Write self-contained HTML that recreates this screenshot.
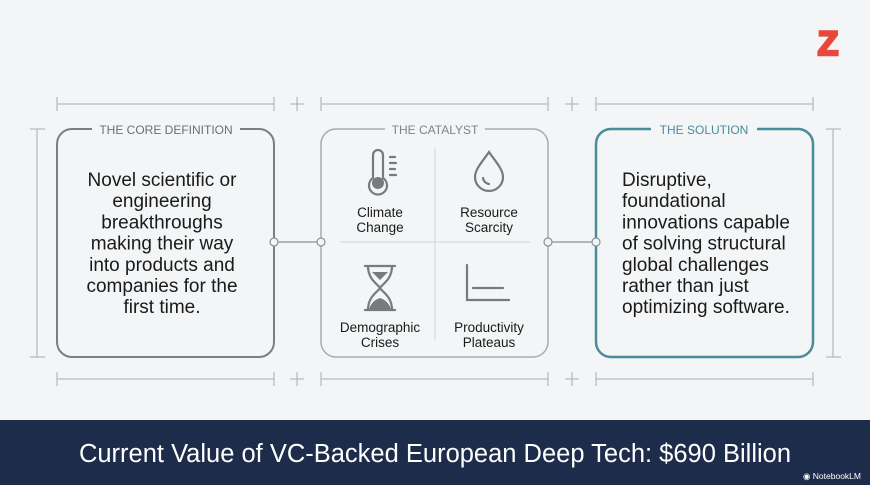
<!DOCTYPE html>
<html><head><meta charset="utf-8"><style>
html,body{margin:0;padding:0;background:#f3f5f6;}
svg{display:block;font-family:"Liberation Sans",sans-serif;}
</style></head><body>
<svg width="870" height="485" viewBox="0 0 870 485" xmlns="http://www.w3.org/2000/svg">
<rect width="870" height="485" fill="#f3f5f6"/>
<!-- Z logo -->
<text x="828" y="55" font-size="34" font-weight="bold" fill="#e8473a" stroke="#e8473a" stroke-width="2.5" text-anchor="middle" font-family="Liberation Sans,sans-serif">Z</text>
<!-- dimension lines -->
<g stroke="#a9adb1" stroke-width="1" fill="none">
<line x1="57" y1="104" x2="274" y2="104"/><line x1="57" y1="97" x2="57" y2="111"/><line x1="274" y1="97" x2="274" y2="111"/>
<line x1="321" y1="104" x2="548" y2="104"/><line x1="321" y1="97" x2="321" y2="111"/><line x1="548" y1="97" x2="548" y2="111"/>
<line x1="596" y1="104" x2="813" y2="104"/><line x1="596" y1="97" x2="596" y2="111"/><line x1="813" y1="97" x2="813" y2="111"/>
<line x1="57" y1="379" x2="274" y2="379"/><line x1="57" y1="372" x2="57" y2="386"/><line x1="274" y1="372" x2="274" y2="386"/>
<line x1="321" y1="379" x2="548" y2="379"/><line x1="321" y1="372" x2="321" y2="386"/><line x1="548" y1="372" x2="548" y2="386"/>
<line x1="596" y1="379" x2="813" y2="379"/><line x1="596" y1="372" x2="596" y2="386"/><line x1="813" y1="372" x2="813" y2="386"/>
<path d="M290 104h14M297 97v14M565 104h14M572 97v14M290 379h14M297 372v14M565 379h14M572 372v14"/>
<line x1="37" y1="129" x2="37" y2="357"/><line x1="30" y1="129" x2="45" y2="129"/><line x1="30" y1="357" x2="45" y2="357"/>
<line x1="833" y1="129" x2="833" y2="357"/><line x1="826" y1="129" x2="841" y2="129"/><line x1="826" y1="357" x2="841" y2="357"/>
</g>
<!-- boxes -->
<rect x="57" y="129" width="217" height="228" rx="15" fill="none" stroke="#7a7f85" stroke-width="2"/>
<rect x="321" y="129" width="227" height="228" rx="15" fill="none" stroke="#a7abaf" stroke-width="1.5"/>
<rect x="596" y="129" width="217" height="228" rx="15" fill="none" stroke="#4a8d9a" stroke-width="2.5"/>
<rect x="92" y="120" width="148" height="18" fill="#f3f5f6"/>
<rect x="385" y="120" width="100" height="18" fill="#f3f5f6"/>
<rect x="651" y="120" width="106" height="18" fill="#f3f5f6"/>
<g font-size="12" text-anchor="middle">
<text x="166" y="134" fill="#6b7075">THE CORE DEFINITION</text>
<text x="435" y="134" fill="#7f8489">THE CATALYST</text>
<text x="704" y="134" fill="#4a8d9a">THE SOLUTION</text>
</g>
<!-- connectors -->
<g stroke="#8d9196" stroke-width="1.2" fill="#f3f5f6">
<line x1="274" y1="242" x2="321" y2="242"/><line x1="548" y1="242" x2="596" y2="242"/>
<circle cx="274" cy="242" r="4"/><circle cx="321" cy="242" r="4"/><circle cx="548" cy="242" r="4"/><circle cx="596" cy="242" r="4"/>
</g>
<!-- box1 text -->
<g font-size="19" fill="#1a1a1a" text-anchor="middle">
<text x="162" y="186">Novel scientific or</text>
<text x="162" y="207.2">engineering</text>
<text x="162" y="228.4">breakthroughs</text>
<text x="162" y="249.6">making their way</text>
<text x="162" y="270.8">into products and</text>
<text x="162" y="292">companies for the</text>
<text x="162" y="313.2">first time.</text>
</g>
<!-- box3 text -->
<g font-size="19" fill="#1a1a1a">
<text x="622" y="186">Disruptive,</text>
<text x="622" y="207.2">foundational</text>
<text x="622" y="228.4">innovations capable</text>
<text x="622" y="249.6">of solving structural</text>
<text x="622" y="270.8">global challenges</text>
<text x="622" y="292">rather than just</text>
<text x="622" y="313.2">optimizing software.</text>
</g>
<!-- catalyst grid -->
<g stroke="#d2d5d8" stroke-width="1"><line x1="435" y1="148" x2="435" y2="340"/><line x1="340" y1="242" x2="530" y2="242"/></g>
<g font-size="13.5" fill="#1a1a1a" text-anchor="middle">
<text x="380" y="217">Climate</text><text x="380" y="232">Change</text>
<text x="489" y="217">Resource</text><text x="489" y="232">Scarcity</text>
<text x="380" y="332">Demographic</text><text x="380" y="347">Crises</text>
<text x="489" y="332">Productivity</text><text x="489" y="347">Plateaus</text>
</g>
<g stroke="#777b80" stroke-width="2.2" fill="none" stroke-linecap="round">
<path d="M373 178V155a5 5 0 0 1 10 0v23a9 9 0 1 1 -10 0z"/>
<path d="M390 157h5M390 163h6M390 169h5M390 175h6"/>
<path d="M489 152c-6 9 -14 17 -14 25a14 14 0 0 0 28 0c0-8-8-16-14-25z"/>
<path d="M483 178a7 7 0 0 0 6 6"/>
<path d="M365 266h30M365 310h30M368 266c0 14 10 18 12 22c2 4 12 8 12 22M392 266c0 14-10 18-12 22c-2 4-12 8-12 22"/>
<path d="M467 265v35h42M473 288h30"/>
</g>
<circle cx="378" cy="183" r="6" fill="#777b80"/>
<path d="M369 309c3-8 8-10 11-11c3 1 8 3 11 11z" fill="#777b80"/>
<path d="M372 272h16l-8 8z" fill="#777b80"/>
<!-- banner -->
<rect x="0" y="420" width="870" height="65" fill="#1c2c4a"/>
<text x="435" y="462" font-size="25.5" fill="#ffffff" text-anchor="middle">Current Value of VC-Backed European Deep Tech: $690 Billion</text>
<text x="832" y="479" font-size="8.5" fill="#ffffff" text-anchor="middle">◉ NotebookLM</text>
</svg>
</body></html>
